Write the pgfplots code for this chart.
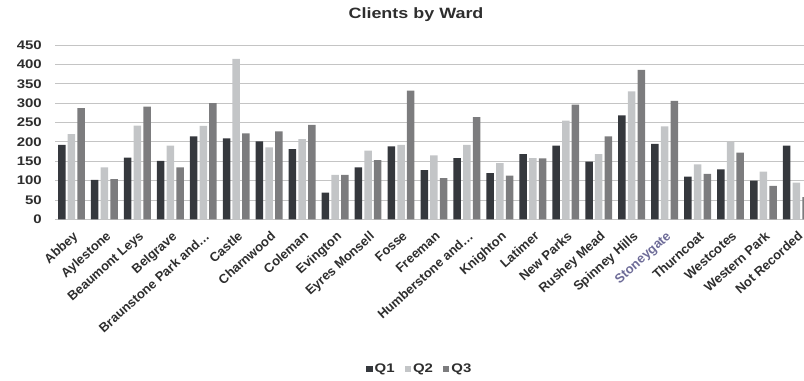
\documentclass[border=0pt]{standalone}
\usepackage{pgfplots}
\usepackage{pgfplotstable}
\pgfplotsset{compat=1.18}
\usepackage{fontspec}
\setmainfont[FakeStretch=1.2]{Liberation Sans}
\newfontfamily\labelfont{Liberation Sans}
\definecolor{qone}{HTML}{35383D}
\definecolor{qtwo}{HTML}{C3C5C7}
\definecolor{qthree}{HTML}{7C7C7E}
\definecolor{gridc}{HTML}{C4C4C4}
\definecolor{txt}{HTML}{2E2E2E}
\definecolor{stoney}{HTML}{6E6C98}

\pgfplotstableread{
x q1 q2 q3
0 192 220 287
1 102 134 104
2 159 242 291
3 151 190 134
4 214 241 300
5 209 414 222
6 201 186 227
7 181 207 244
8 69 115 115
9 134 177 153
10 188 192 332
11 127 165 106
12 158 192 264
13 119 145 113
14 168 158 157
15 190 255 296
16 149 168 214
17 268 330 386
18 195 240 306
19 110 142 117
20 129 199 172
21 100 123 86
22 190 95 57
}\data

\begin{document}
\begin{tikzpicture}
\begin{axis}[
  scale only axis,
  width=749bp, height=174.3bp,
  xmin=-0.5, xmax=22.23,
  ymin=0, ymax=450,
  enlargelimits=false,
  ybar=2.2bp, bar width=7.5bp,
  axis line style={draw=none},
  major tick length=0pt,
  ymajorgrids, grid style={gridc, line width=0.8bp},
  ytick={0,50,...,450},
  xtick={0,...,22},
  xticklabels={Abbey,Aylestone,Beaumont Leys,Belgrave,Braunstone Park and…,Castle,Charnwood,Coleman,Evington,Eyres Monsell,Fosse,Freeman,Humberstone and…,Knighton,Latimer,New Parks,Rushey Mead,Spinney Hills,{\color{stoney}Stoneygate},Thurncoat,Westcotes,Western Park,Not Recorded},
  /pgf/number format/assume math mode=true,
  tick label style={font=\fontsize{12.5}{14}\selectfont\bfseries, text=txt},
  yticklabel style={inner sep=0pt, xshift=-13bp},
  xticklabel style={inner sep=0pt, xshift=0.8bp, yshift=-11bp, rotate=42, anchor=north east, font=\labelfont\fontsize{13}{15}\selectfont\bfseries},
  title={Clients by Ward},
  title style={at={(0.482,1.172)}, anchor=center, yshift=-6pt, font=\fontsize{15}{17}\selectfont\bfseries, text=txt},
  legend columns=-1,
  legend style={at={(0.487,-0.859)}, anchor=center, draw=none, fill=none,
    font=\fontsize{12.5}{14}\selectfont\bfseries, text=txt,
    /tikz/every even column/.append style={column sep=8bp}},
  legend image code/.code={\fill[#1] (0bp,-3.2bp) rectangle (6.5bp,3.2bp);},
]
\addplot[fill=qone, draw=none] table[x=x,y=q1]{\data};
\addplot[fill=qtwo, draw=none] table[x=x,y=q2]{\data};
\addplot[fill=qthree, draw=none] table[x=x,y=q3]{\data};
\legend{Q1,Q2,Q3}
\coordinate (ll) at (rel axis cs:0,0);
\end{axis}
\pgfresetboundingbox
\path[use as bounding box] ([shift={(-55bp,-161.7bp)}]ll) rectangle ++(804bp,381bp);
\end{tikzpicture}
\end{document}
